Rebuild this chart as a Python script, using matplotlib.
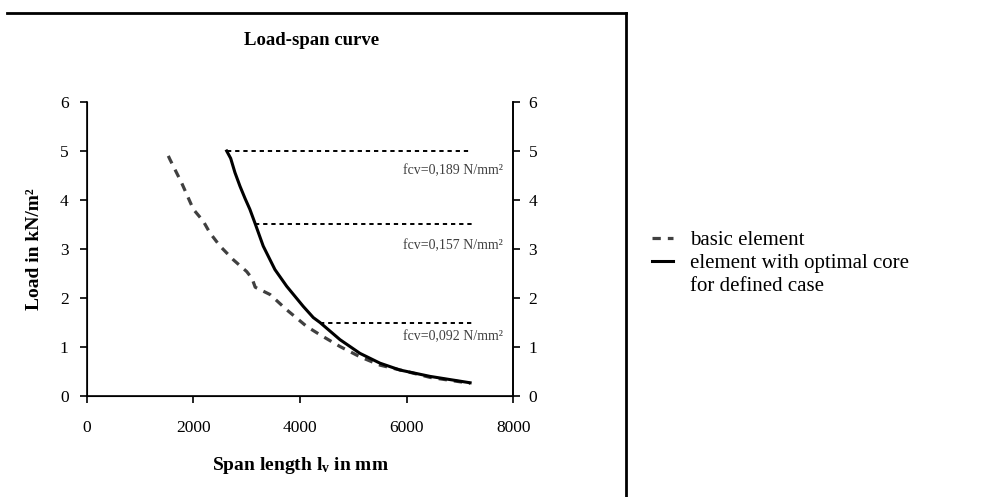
import numpy as np
import matplotlib
matplotlib.use('Agg')
import matplotlib.pyplot as plt
from matplotlib.lines import Line2D

plt.rcParams['font.family'] = ['Liberation Serif', 'DejaVu Serif']
plt.rcParams['mathtext.fontset'] = 'custom'
plt.rcParams['mathtext.rm'] = 'Liberation Serif'
plt.rcParams['mathtext.bf'] = 'Liberation Serif:bold'
plt.rcParams['mathtext.it'] = 'Liberation Serif:italic'

# basic element (dashed grey)
basic_span = [1530, 1560, 1780, 2000, 2185, 2310, 2500, 2750, 3000, 3100, 3160, 3440, 3750,
              4125, 4375, 4750, 5125, 5500, 6000, 6440, 7190]
basic_load = [4.90, 4.83, 4.35, 3.81, 3.57, 3.33, 3.06, 2.78, 2.54, 2.40, 2.22, 2.07, 1.76,
              1.42, 1.25, 1.01, 0.80, 0.63, 0.50, 0.38, 0.26]

# element with optimal core (solid black)
opt_span = [2625, 2700, 2780, 2875, 2970, 3060, 3155, 3310, 3530, 3750, 4060, 4250, 4375,
            4750, 5125, 5500, 5875, 6440, 7190]
opt_load = [5.00, 4.85, 4.56, 4.28, 4.03, 3.81, 3.53, 3.06, 2.58, 2.24, 1.83, 1.60, 1.50,
            1.15, 0.87, 0.67, 0.53, 0.40, 0.27]

# shear strength levels
fcv_load = [5.0, 3.5, 1.5]
fcv_start = [2625, 3155, 4375]
fcv_end = 7220
fcv_labels = ['fcv=0,189 N/mm²', 'fcv=0,157 N/mm²', 'fcv=0,092 N/mm²']
fcv_text_y = [4.59, 3.06, 1.21]

fig = plt.figure(figsize=(10, 4.97), dpi=100)
ax = fig.add_axes([0.0867, 0.2032, 0.4266, 0.5916])

ax.plot(basic_span, basic_load, color='#404040', lw=2.3, ls=(0, (2.6, 2.2)),
        label='basic element')
ax.plot(opt_span, opt_load, color='black', lw=2.2,
        label='element with optimal core')

for y0, x0, lab, ty in zip(fcv_load, fcv_start, fcv_labels, fcv_text_y):
    ax.plot([x0, fcv_end], [y0, y0], color='black', lw=1.4, ls=(0, (2.2, 2.0)))
    ax.text(7800, ty, lab, ha='right', va='center', fontsize=10, color='#404040')

ax.set_xlim(0, 8000)
ax.set_ylim(0, 6)
ax.set_xticks([0, 2000, 4000, 6000, 8000])
ax.set_yticks(range(7))
ax.spines['top'].set_visible(False)
for s in ['left', 'bottom', 'right']:
    ax.spines[s].set_linewidth(1.2)
ax.tick_params(direction='out', length=5, width=1.2, labelsize=12.5)
ax.tick_params(axis='x', pad=12)
ax.tick_params(axis='y', pad=8)

ax2 = ax.twinx()
ax2.set_ylim(0, 6)
ax2.set_yticks(range(7))
ax2.spines['top'].set_visible(False)
ax2.spines['right'].set_linewidth(1.2)
ax2.tick_params(direction='out', length=5, width=1.2, labelsize=12.5, pad=6)

ax.set_xlabel(r'Span length l$_\mathbf{v}$ in mm', fontsize=14, fontweight='bold', labelpad=14)
ax.set_ylabel('Load in kN/m²', fontsize=14, fontweight='bold', labelpad=12)
fig.text(0.312, 0.918, 'Load-span curve', ha='center', va='center', fontsize=13.5, fontweight='bold')

# legend
h1 = Line2D([], [], color='#404040', lw=2.3, ls=(0, (2.6, 2.2)))
h2 = Line2D([], [], color='black', lw=2.2)
h3 = Line2D([], [], color='none')
fig.legend([h1, h2, h3], ['basic element', 'element with optimal core', 'for defined case'],
           loc='center left', bbox_to_anchor=(0.642, 0.47), frameon=False, fontsize=15,
           handlelength=1.0, handletextpad=0.8, labelspacing=0.15, borderpad=0)

# frame lines around chart area
fig.add_artist(Line2D([0.007, 0.626], [1 - 13 / 497, 1 - 13 / 497], color='black', lw=2))
fig.add_artist(Line2D([0.626, 0.626], [0, 1 - 13 / 497], color='black', lw=2))

fig.savefig('out.png', dpi=100)
